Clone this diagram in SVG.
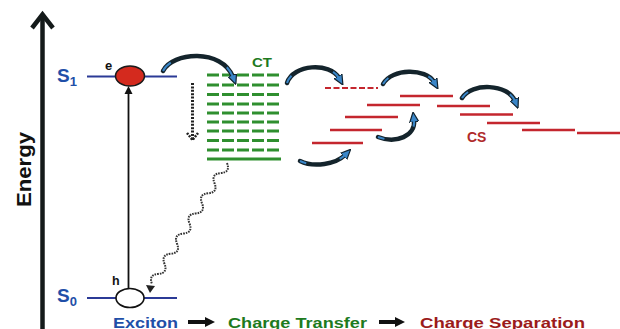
<svg xmlns="http://www.w3.org/2000/svg" width="620" height="329" viewBox="0 0 620 329">
<style>
.lbl{font-family:"Liberation Sans",Arial,sans-serif;font-weight:bold}
.lvl{stroke:#2b3a96;stroke-width:2}
.ct{stroke:#2f8f2f;stroke-width:3;stroke-dasharray:12 3}
.cs{stroke:#c4262e;stroke-width:2.6}
.arc{fill:none;stroke:#14242c;stroke-width:4.5;stroke-linecap:round}
.arcb{fill:none;stroke:#3a86c8;stroke-width:2;stroke-dasharray:14 72 14}
</style>
<defs>
<marker id="ah" viewBox="0 0 10 10" refX="2" refY="5" markerWidth="10" markerHeight="10" markerUnits="userSpaceOnUse" orient="auto">
<path d="M0,0.5 L10,5 L0,9.5 Z" fill="#3a86c8" stroke="#10222e" stroke-width="1.2"/>
</marker>
</defs>
<rect width="620" height="329" fill="#ffffff"/>

<g id="energy-axis">
<line x1="42.5" y1="16" x2="42.5" y2="329" stroke="#141a1a" stroke-width="4.5"/>
<polyline points="32,28 42.5,14.5 53,28" fill="none" stroke="#141a1a" stroke-width="4.5"/>
<text class="lbl" x="0" y="0" font-size="21" fill="#111" textLength="75" lengthAdjust="spacingAndGlyphs" transform="translate(31,207) rotate(-90)">Energy</text>
</g>

<g id="S1">
<text class="lbl" x="57" y="82" font-size="19" fill="#1f4fa8">S<tspan font-size="13" dy="4">1</tspan></text>
<line class="lvl" x1="87" y1="76.5" x2="177" y2="76.5"/>
<ellipse cx="130" cy="76" rx="14.5" ry="10" fill="#d42a1e" stroke="#1a1a1a" stroke-width="1.5"/>
<text class="lbl" x="105" y="70" font-size="13" fill="#111">e</text>
</g>

<g id="S0">
<text class="lbl" x="57" y="302" font-size="19" fill="#1f4fa8">S<tspan font-size="13" dy="4">0</tspan></text>
<line class="lvl" x1="87" y1="298" x2="177" y2="298"/>
<ellipse cx="130" cy="298" rx="14" ry="9.5" fill="#ffffff" stroke="#111" stroke-width="1.6"/>
<text class="lbl" x="112" y="285" font-size="12.5" fill="#111">h</text>
</g>

<g id="CT">
<text class="lbl" x="252" y="66.5" font-size="13" fill="#1e7a1e" textLength="20" lengthAdjust="spacingAndGlyphs">CT</text>
<line class="ct" x1="207" y1="75" x2="280" y2="75"/>
<line class="ct" x1="207" y1="85" x2="280" y2="85"/>
<line class="ct" x1="207" y1="94.5" x2="280" y2="94.5"/>
<line class="ct" x1="207" y1="104" x2="280" y2="104"/>
<line class="ct" x1="207" y1="113" x2="280" y2="113"/>
<line class="ct" x1="207" y1="122" x2="280" y2="122"/>
<line class="ct" x1="207" y1="131" x2="280" y2="131"/>
<line class="ct" x1="207" y1="140.5" x2="280" y2="140.5"/>
<line class="ct" x1="207" y1="150" x2="280" y2="150"/>
<line x1="207" y1="159" x2="281" y2="159" stroke="#2f8f2f" stroke-width="3"/>
</g>

<g id="CS">
<line x1="325" y1="88" x2="378" y2="88" stroke="#c4262e" stroke-width="2" stroke-dasharray="6 2.5"/>
<line class="cs" x1="400" y1="96" x2="453" y2="96"/>
<line class="cs" x1="367" y1="105" x2="420" y2="105"/>
<line class="cs" x1="437" y1="106" x2="490" y2="106"/>
<line class="cs" x1="345" y1="117" x2="398" y2="117"/>
<line class="cs" x1="460" y1="114.5" x2="513" y2="114.5"/>
<line class="cs" x1="330" y1="130" x2="382" y2="130"/>
<line class="cs" x1="487" y1="123" x2="540" y2="123"/>
<line class="cs" x1="312" y1="143" x2="363" y2="143"/>
<line class="cs" x1="522" y1="130" x2="575" y2="130"/>
<line class="cs" x1="577" y1="133" x2="620" y2="133"/>
<text class="lbl" x="467" y="142" font-size="14" fill="#b02a2a">CS</text>
</g>

<g id="connectors">
<line x1="128.5" y1="288" x2="128.5" y2="92" stroke="#111" stroke-width="1.8"/>
<polygon points="124.5,94 128.5,86 132.5,94" fill="#111"/>
<line x1="192.5" y1="83" x2="192.5" y2="139" stroke="#222" stroke-width="3" stroke-dasharray="2 1.4"/>
<polyline points="187,133 192.5,140 198,133" fill="none" stroke="#222" stroke-width="2.5" stroke-dasharray="2 1.2"/>
<path d="M227,163 Q230.68,172.25 220.75,173.08 T214.5,183.17 T208.25,193.25 T202,203.33 T195.75,213.42 T189.5,223.5 T183.25,233.58 T177,243.67 T170.75,253.75 T164.5,263.83 T158.25,273.92 T152,284" fill="none" stroke="#333" stroke-width="2" stroke-dasharray="1.6 1"/>
<polygon points="146,285 155,286 150,293" fill="#222"/>

<path class="arc" d="M163,71 C172,52 222,48 233,77" marker-end="url(#ah)"/>
<path class="arcb" pathLength="100" d="M163,71 C172,52 222,48 233,77"/>
<path class="arc" d="M287,83 C293,64 330,62 339,78" marker-end="url(#ah)"/>
<path class="arcb" pathLength="100" d="M287,83 C293,64 330,62 339,78"/>
<path class="arc" d="M383,84 C392,68 426,68 434,82" marker-end="url(#ah)"/>
<path class="arcb" pathLength="100" d="M383,84 C392,68 426,68 434,82"/>
<path class="arc" d="M462,98 C472,82 508,84 515,101" marker-end="url(#ah)"/>
<path class="arcb" pathLength="100" d="M462,98 C472,82 508,84 515,101"/>
<path class="arc" d="M378,137 C396,144 416,136 414,120" marker-end="url(#ah)"/>
<path class="arcb" pathLength="100" d="M378,137 C396,144 416,136 414,120"/>
<path class="arc" d="M300,161 C314,168 336,164 345,155" marker-end="url(#ah)"/>
<path class="arcb" pathLength="100" d="M300,161 C314,168 336,164 345,155"/>
</g>

<g id="legend">
<text class="lbl" x="113" y="327.5" font-size="15" fill="#1f4fa8" textLength="65" lengthAdjust="spacingAndGlyphs">Exciton</text>
<rect x="188" y="320" width="19" height="4" fill="#111"/>
<polygon points="205,317 215,322 205,327" fill="#111"/>
<text class="lbl" x="228" y="327.5" font-size="15" fill="#1e7a1e" textLength="139" lengthAdjust="spacingAndGlyphs">Charge Transfer</text>
<rect x="379" y="320" width="18" height="4" fill="#111"/>
<polygon points="395,317 405,322 395,327" fill="#111"/>
<text class="lbl" x="420" y="327.5" font-size="15" fill="#9b1b1b" textLength="165" lengthAdjust="spacingAndGlyphs">Charge Separation</text>
</g>
</svg>
